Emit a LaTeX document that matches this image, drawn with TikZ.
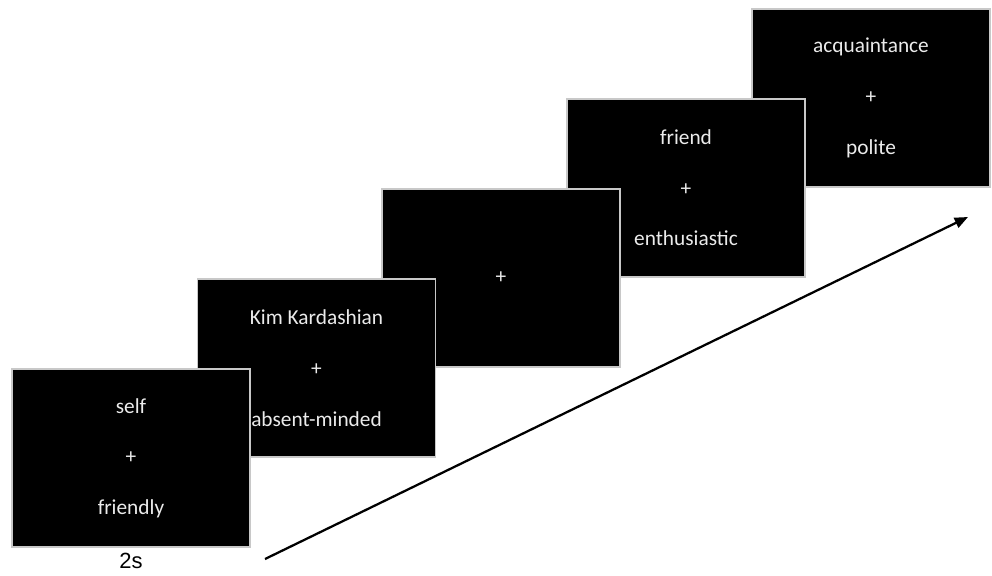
\documentclass[tikz,border=0pt]{standalone}
\usepackage{fontspec}
\setmainfont{Carlito}
\newfontfamily\labelfont{Liberation Sans}
\usetikzlibrary{arrows.meta, positioning}
\definecolor{screenblack}{RGB}{0,0,0}
\definecolor{screenedge}{RGB}{200,200,200}
\definecolor{screentext}{RGB}{235,235,235}

\begin{document}
\begin{tikzpicture}[
    x=0.75pt, y=-0.75pt,
    screen/.style={rectangle, draw=screenedge, line width=0.8pt, fill=screenblack,
                   minimum width=178.5pt, minimum height=133.5pt, inner sep=0pt,
                   align=center, text=screentext,
                   font=\fontsize{16}{19}\selectfont},
    arr/.style={-{Triangle[length=10pt, width=8pt]}, line width=1.7pt},
    timing/.style={font=\labelfont\fontsize{16.5}{19}\selectfont, inner sep=1pt},
]
    \useasboundingbox (0,0) rectangle (992,575);

    % screens, back to front
    \node[screen] (s5) at (871,98) {acquaintance\\[19pt]+\\[19pt]polite};
    \node[screen] (s4) at (686,188) {friend\\[19pt]+\\[19pt]enthusiastic};
    \node[screen] (s3) at (501,278) {+};
    \node[screen] (s2) at (316.5,368) {Kim Kardashian\\[19pt]+\\[19pt]absent-minded};
    \node[screen] (s1) at (131,458) {self\\[19pt]+\\[19pt]friendly};

    % duration
    \node[timing, below=3pt of s1] (dur) {2s};

    % time axis
    \coordinate (tstart) at (265,559);
    \coordinate (tend) at (968,217);
    \draw[arr] (tstart) -- (tend);
\end{tikzpicture}
\end{document}
